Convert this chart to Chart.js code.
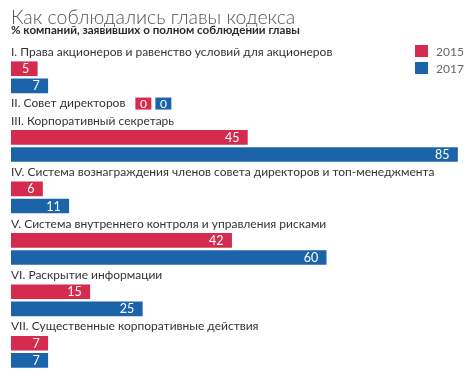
<!DOCTYPE html>
<html lang="ru">
<head>
    <meta charset="UTF-8">
    <title>Как соблюдались главы кодекса</title>
    <script src="https://cdn.jsdelivr.net/npm/chart.js"></script>
    <style>
        body { margin: 0; background: #fff; }
        #wrap { width: 470px; height: 380px; position: relative; }
    </style>
</head>
<body>
<div id="wrap"><canvas id="chart"></canvas></div>
<script>
    const chapters = [
        'I. Права акционеров и равенство условий для акционеров',
        'II. Совет директоров',
        'III. Корпоративный секретарь',
        'IV. Система вознаграждения членов совета директоров и топ-менеджмента',
        'V. Система внутреннего контроля и управления рисками',
        'VI. Раскрытие информации',
        'VII. Существенные корпоративные действия'
    ];
    const years = ['2015', '2017'];
    const values2015 = [5, 0, 45, 6, 42, 15, 7];
    const values2017 = [7, 0, 85, 11, 60, 25, 7];
    const colors = ['#d42b4e', '#1c64aa'];

    const FONT = "Lato, 'Open Sans', sans-serif";
    const NARROW = "'Liberation Sans Narrow', Lato, sans-serif";

    // one row for the chapter name, then one row per bar (none if both are zero)
    const rowLabels = [];
    const rowChapter = [];
    const data15 = [];
    const data17 = [];
    chapters.forEach((name, i) => {
        rowLabels.push(name); rowChapter.push(i); data15.push(null); data17.push(null);
        if (values2015[i] === 0 && values2017[i] === 0) return;
        rowLabels.push(''); rowChapter.push(-1); data15.push(values2015[i]); data17.push(null);
        rowLabels.push(''); rowChapter.push(-1); data15.push(null); data17.push(values2017[i]);
    });

    const annotate = {
        id: 'annotate',
        afterDatasetsDraw(chart) {
            const ctx = chart.ctx;
            const y = chart.scales.y;
            const left = chart.chartArea.left;
            ctx.save();

            // title + subtitle
            ctx.textAlign = 'left';
            ctx.textBaseline = 'alphabetic';
            ctx.fillStyle = '#555';
            ctx.font = '300 19.5px ' + FONT;
            ctx.fillText('Как соблюдались главы кодекса', left, 23.5);
            ctx.fillStyle = '#2a2a2a';
            ctx.font = 'bold 11.6px ' + FONT;
            ctx.fillText('% компаний, заявивших о полном соблюдении главы', left, 33.5);

            // chapter names (and zero values next to them)
            ctx.textBaseline = 'middle';
            rowChapter.forEach((ci, r) => {
                if (ci < 0) return;
                const py = y.getPixelForValue(r) + 0.5;
                ctx.font = '12px ' + FONT;
                ctx.fillStyle = '#333';
                ctx.textAlign = 'left';
                ctx.fillText(chapters[ci], left, py);
                if (values2015[ci] === 0 && values2017[ci] === 0) {
                    let bx = left + ctx.measureText(chapters[ci]).width + 10;
                    [values2015[ci], values2017[ci]].forEach((v, k) => {
                        ctx.fillStyle = colors[k];
                        ctx.fillRect(bx, py - 6, 16, 12);
                        ctx.fillStyle = '#fff';
                        ctx.textAlign = 'center';
                        ctx.fillText(String(v), bx + 8, py + 0.5);
                        bx += 20;
                        ctx.textAlign = 'left';
                    });
                }
            });

            // values inside the bars
            ctx.font = '12.5px ' + FONT;
            ctx.fillStyle = '#fff';
            ctx.textAlign = 'right';
            chart.data.datasets.forEach((ds, di) => {
                chart.getDatasetMeta(di).data.forEach((bar, idx) => {
                    const v = ds.data[idx];
                    if (v === null) return;
                    ctx.fillText(String(v), bar.x - 8, bar.y + 0.5);
                });
            });

            // legend
            ctx.font = '12px ' + NARROW;
            ctx.textAlign = 'left';
            chart.data.datasets.forEach((ds, di) => {
                const ly = 51 + di * 17;
                ctx.fillStyle = ds.backgroundColor;
                ctx.fillRect(415, ly - 6, 13, 12);
                ctx.fillStyle = '#666';
                ctx.fillText(ds.label, 436, ly + 1);
            });
            ctx.restore();
        }
    };

    new Chart(document.getElementById('chart'), {
        type: 'bar',
        data: {
            labels: rowLabels,
            datasets: [
                { label: years[0], data: data15, backgroundColor: colors[0] },
                { label: years[1], data: data17, backgroundColor: colors[1] }
            ]
        },
        options: {
            indexAxis: 'y',
            responsive: true,
            maintainAspectRatio: false,
            animation: false,
            grouped: false,
            barThickness: 14,
            layout: { padding: { left: 11, right: 2, top: 43, bottom: 11 } },
            plugins: {
                legend: { display: false },
                tooltip: { enabled: false }
            },
            scales: {
                x: { display: false, min: 0, max: 87 },
                y: { display: false }
            }
        },
        plugins: [annotate]
    });
</script>
</body>
</html>
